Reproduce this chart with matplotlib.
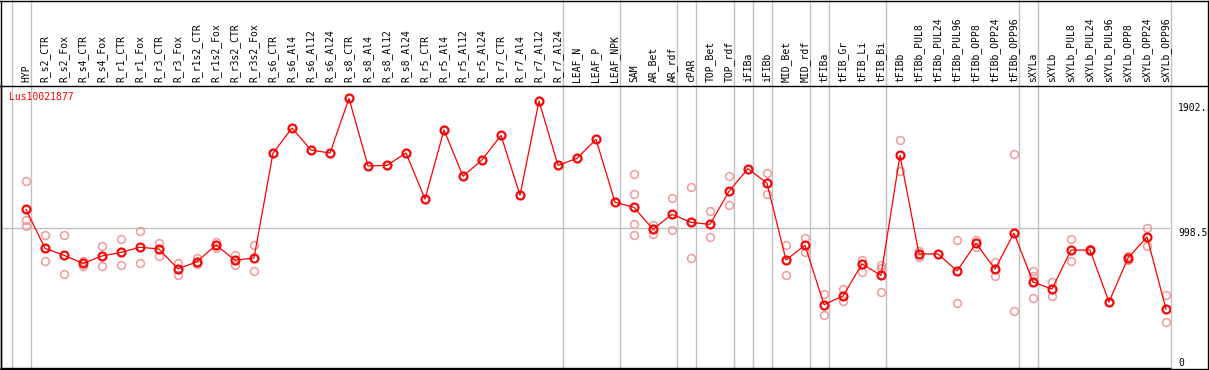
import matplotlib
matplotlib.use("Agg")
import matplotlib.pyplot as plt
from matplotlib.lines import Line2D

# Sample names (one column each)
samples = ["HYP", "R_s2_CTR", "R_s2_Fox", "R_s4_CTR", "R_s4_Fox", "R_r1_CTR", "R_r1_Fox",
           "R_r3_CTR", "R_r3_Fox", "R_r1s2_CTR", "R_r1s2_Fox", "R_r3s2_CTR", "R_r3s2_Fox",
           "R_s6_CTR", "R_s6_Al4", "R_s6_Al12", "R_s6_Al24", "R_s8_CTR", "R_s8_Al4",
           "R_s8_Al12", "R_s8_Al24", "R_r5_CTR", "R_r5_Al4", "R_r5_Al12", "R_r5_Al24",
           "R_r7_CTR", "R_r7_Al4", "R_r7_Al12", "R_r7_Al24", "LEAF_N", "LEAF_P", "LEAF_NPK",
           "SAM", "AR_Bet", "AR_rdf", "cPAR", "TOP_Bet", "TOP_rdf", "iFIBa", "iFIBb",
           "MID_Bet", "MID_rdf", "tFIBa", "tFIB_Gr", "tFIB_Li", "tFIB_Bi", "tFIBb",
           "tFIBb_PUL8", "tFIBb_PUL24", "tFIBb_PUL96", "tFIBb_OPP8", "tFIBb_OPP24", "tFIBb_OPP96",
           "sXYLa", "sXYLb", "sXYLb_PUL8", "sXYLb_PUL24", "sXYLb_PUL96", "sXYLb_OPP8",
           "sXYLb_OPP24", "sXYLb_OPP96"]

# mean expression per sample
means = [1140, 849, 797, 737, 792, 819, 857, 844, 695, 749, 874, 760, 777,
         1559, 1748, 1583, 1561, 1969, 1464, 1469, 1561, 1217, 1733, 1387, 1509,
         1693, 1245, 1949, 1469, 1521, 1663, 1193,
         1155, 991, 1103, 1043, 1028, 1275, 1444, 1335, 762, 872,
         428, 493, 732, 647, 1544,
         807, 807, 680, 886, 695, 963,
         597, 545, 836, 836, 448, 777, 934, 394]

# individual replicates (sample index, value)
rep_idx = [0, 0, 0, 1, 1, 2, 2, 3, 3, 4, 4, 5, 5, 6, 6, 7, 7, 8, 8, 9, 9, 10, 10, 11, 11, 12, 12,
           32, 32, 32, 32, 33, 33, 34, 34, 35, 35, 36, 36, 37, 37, 39, 39, 40, 40, 41, 41,
           42, 42, 43, 43, 44, 44, 45, 45, 45, 46, 46,
           47, 47, 49, 49, 50, 50, 51, 51, 52, 52,
           53, 53, 53, 54, 54, 55, 55, 56, 56, 58, 58, 59, 59, 60, 60]
rep_val = [1352, 1060, 1013, 946, 754, 946, 655, 757, 717, 866, 717, 919, 724, 978, 737,
           889, 794, 737, 652, 779, 730, 898, 854, 799, 724, 872, 677,
           1404, 1252, 1028, 946, 1025, 956, 1223, 984, 1305, 774, 1125, 934, 1387, 1170,
           1411, 1252, 874, 650, 926, 819,
           508, 349, 543, 458, 762, 674, 727, 704, 521, 1656, 1429,
           786, 828, 911, 441, 911, 861, 745, 640, 1551, 381,
           680, 644, 478, 600, 491, 916, 752, 846, 826, 794, 759, 1001, 864, 498, 299]

# group separators drawn just right of these sample columns
separators = [-1, 0, 28, 31, 34, 35, 37, 38, 39, 41, 42, 45, 52, 53, 60]

yticks = [0, 998.5, 1902]
yticklabels = ["0", "998.5", "1902."]
gene = "Lus10021877"

W, H = 1209, 370
fig = plt.figure(figsize=(W / 100, H / 100), dpi=100)

def px_axes(x0, y0, x1, y1):
    return fig.add_axes([x0 / W, 1 - y1 / H, (x1 - x0) / W, (y1 - y0) / H])

ax = px_axes(1, 85, 1170, 368)
x = list(range(len(samples)))
ax.set_xlim(-1.316, 60.21)
ax.set_ylim(-45, 2069)

grey = "#c0c0c0"
for s in separators:
    ax.axvline(s + 0.25, ymin=0, ymax=(283 + 85) / 283, color=grey, lw=1, clip_on=False, zorder=0)
ax.axhline(998.5, color=grey, lw=1, zorder=0)

ax.plot(rep_idx, rep_val, "o", ls="none", ms=5.6, mfc="none", mec="#f09a9a", mew=1.1, zorder=2)
ax.plot(x, means, "-", color="red", lw=0.9, zorder=3)
ax.plot(x, means, "o", ls="none", ms=6.0, mfc="none", mec="red", mew=1.3, zorder=4)
ax.plot(x, means, "o", ls="none", ms=4.4, mfc="none", mec="#c00000", mew=0.4, zorder=4)

ax.set_xticks([])
ax.yaxis.tick_right()
ax.set_yticks(yticks)
ax.set_yticklabels(yticklabels, family="DejaVu Sans Mono", fontsize=7)
ax.tick_params(axis="y", length=0, pad=6)
ax.get_yticklabels()[1].set_va("top")
for sp in ["top", "right"]:
    ax.spines[sp].set_visible(False)
ax.spines["left"].set_linewidth(1)
ax.spines["bottom"].set_linewidth(1)

# sample labels in the header
for i, name in enumerate(samples):
    ax.text(i, 1.0 + 3 / 283, name, rotation=90, ha="center", va="bottom",
            family="DejaVu Sans Mono", fontsize=7, transform=ax.get_xaxis_transform(),
            clip_on=False)

fig.text(9.5 / W, 1 - 97 / H, gene, color="red", family="DejaVu Sans Mono", fontsize=7,
         ha="left", va="center")

# frame and header line
k = "black"
fig.add_artist(Line2D([0, 1], [1 - 85.5 / H] * 2, color=k, lw=1, transform=fig.transFigure))
fig.add_artist(Line2D([0, 1207.5 / W], [1 - 0.5 / H] * 2, color=k, lw=1, transform=fig.transFigure))
fig.add_artist(Line2D([0, 1207.5 / W], [1 - 368.5 / H] * 2, color=k, lw=1, transform=fig.transFigure))
fig.add_artist(Line2D([1207.5 / W] * 2, [1 - 368.5 / H, 1 - 0.5 / H], color=k, lw=1, transform=fig.transFigure))
fig.add_artist(Line2D([1.0 / W] * 2, [1 - 368.5 / H, 1 - 0.5 / H], color=k, lw=1, transform=fig.transFigure))

fig.savefig("out.png", dpi=100)
